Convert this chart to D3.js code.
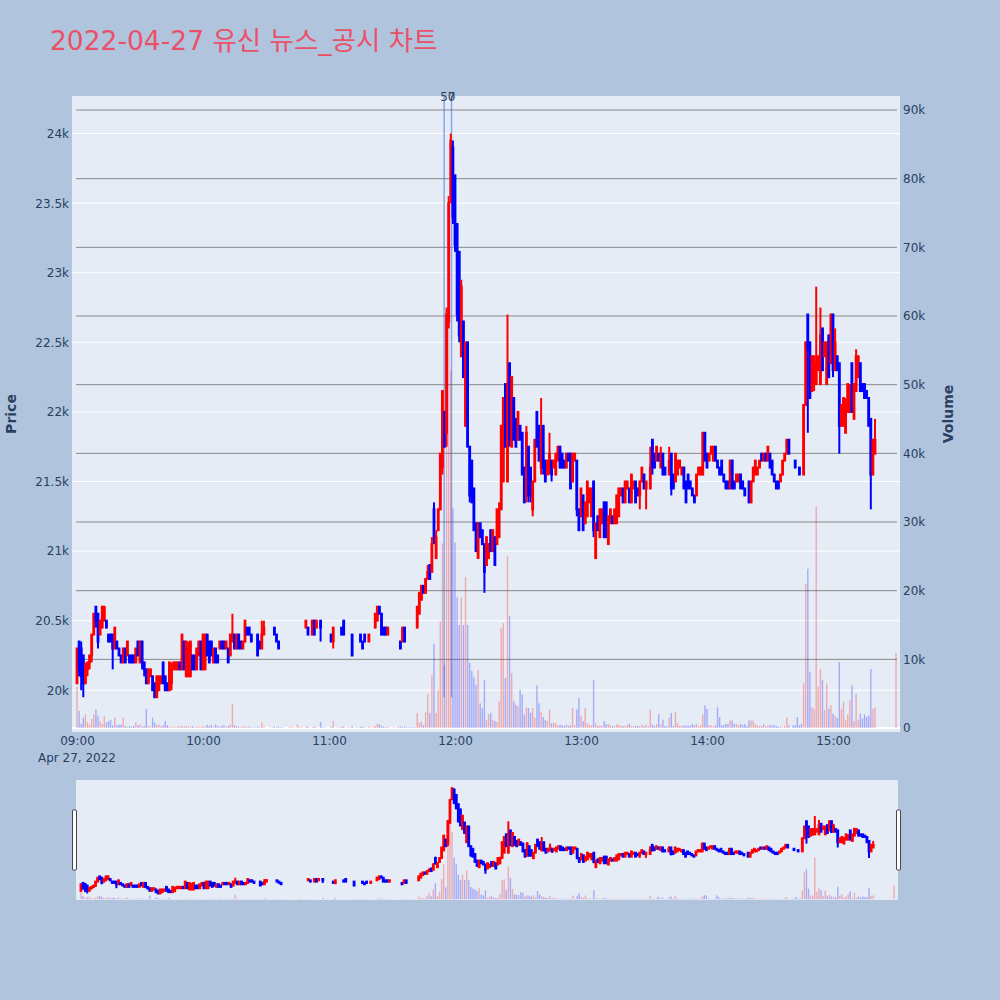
<!DOCTYPE html>
<html>
<head>
<meta charset="utf-8">
<script src="https://cdn.jsdelivr.net/npm/d3@7"></script>
<style>
  body { margin: 0; background: #b0c4de; }
  svg text { font-family: "DejaVu Sans", "Noto Sans CJK KR", sans-serif; }
</style>
</head>
<body>
<div id="chart"></div>
<script>
// one entry per minute starting 09:00, null = no trade in that minute
const openPrices = [
  20050,20350,20300,20250,20050,20150,20200,20250,20400,20600, // 09:00
  20550,20400,20450,20500,20500,20400,20400,20400,20300,20350,
  20300,20250,20200,20300,20250,20250,20250,20250,20200,20350,
  20200,20350,20200,20150,20050,20100,20100,20050,19950,20000,
  20050,20200,20100,20050,20000,20050,20150,20150,20150,20200,
  20150,20350,20100,20100,20100,20250,20250,20150,20250,20350,
  20150,20150,20400,20350,20350,20200,20300,20250,20300,20350, // 10:00
  20350,20300,20300,20250,20350,20400,20300,20400,20350,20300,
  20350,20450,20450,20400,20350,20350,20400,20350,20300,20400,
  null,null,20450,20450,20450,20400,20350,20300,20300,null,
  null,20350,20350,20350,null,20450,20450,20450,null,20450,
  20450,null,20400,20500,20450,null,20500,20450,20450,null,
  null,20400,20350,null,20500,20500,20450,20500,null,20500, // 11:00
  20500,20400,null,20450,20450,20400,20350,20400,null,20350,
  null,20450,20450,20500,20600,20550,20450,20450,20400,null,
  null,20450,null,20400,20350,20350,20450,20350,20350,20350,
  20350,20350,20450,20550,20650,20750,20700,20800,20900,20850,
  21300,20950,21150,21300,21600,22000,21850,22650,23550,23900,
  23700,23350,23150,22400,22650,21900,22500,21750,21650,21450, // 12:00
  21200,20950,21200,21150,21050,20900,20950,21150,21000,21100,
  21050,21100,21300,21500,22200,21500,22350,21750,22100,21950,
  21800,21900,21850,21600,21400,21750,21600,21300,21500,22000,
  21900,21600,21900,21650,21550,21600,21650,21600,21550,21650,
  21750,21700,21650,21600,21700,21700,21500,21650,21650,21300,
  21250,21400,21200,21250,21350,21250,21500,20950,21250,21100, // 13:00
  21200,21350,21350,21050,21200,21250,21200,21200,21250,21400,
  21450,21350,21450,21450,21350,21450,21500,21450,21400,21500,
  21550,21450,21450,21450,21800,21700,21650,21700,21600,21700,
  21600,21550,21550,21700,21550,21500,21550,21600,21550,21600,
  21500,21550,21500,21450,21400,21400,21550,21550,21550,21850,
  21700,21650,21700,21650,21750,21650,21600,21650,21550,21500, // 14:00
  21500,21450,21650,21500,21500,21500,21550,21500,21450,21400,
  21500,21350,21500,21550,21550,21600,21700,21650,21700,21650,
  21700,21650,21550,21500,21500,21500,21550,21650,21700,21800,
  null,21650,21650,21600,21600,21550,21550,22050,22700,22500,
  22150,22200,22200,22300,22200,22600,22400,22200,22550,22350,
  22700,22300,22400,22350,21900,21900,21850,22000,22000,22350, // 15:00
  21950,22150,22250,22350,22200,22200,22150,22100,21950,21550,
  21700,null,null,null,null,null,null,null,null,null,
  21800
];
const highPrices = [
  20300,20350,20350,20250,20200,20200,20250,20400,20550,20600,
  20550,20500,20600,20600,20500,20400,20400,20400,20450,20350,
  20300,20250,20300,20300,20350,20250,20250,20250,20300,20350,
  20350,20350,20200,20150,20150,20150,20100,20050,20100,20100,
  20100,20200,20100,20050,20200,20200,20200,20200,20200,20200,
  20400,20350,20350,20350,20350,20250,20250,20300,20350,20350,
  20400,20400,20400,20350,20350,20300,20300,20250,20350,20350,
  20350,20350,20300,20400,20550,20400,20400,20400,20350,20350,
  20500,20450,20450,20400,20350,20350,20400,20350,20500,20500,
  null,null,20450,20450,20450,20400,20350,20300,20300,null,
  null,20350,20350,20350,null,20450,20450,20450,null,20500,
  20450,null,20500,20500,20500,null,20500,20450,20450,null,
  null,20400,20450,null,20500,20500,20450,20500,null,20500,
  20500,20400,null,20450,20450,20400,20350,20400,null,20400,
  null,20450,20550,20600,20600,20550,20450,20450,20450,null,
  null,20450,null,20400,20350,20450,20450,20350,20350,20350,
  20350,20350,20600,20700,20750,20750,20800,20900,20900,21100,
  21350,21150,21300,21700,22150,22000,22750,23550,24000,23950,
  23700,23350,23150,22950,22650,22500,22500,21750,21650,21450,
  21200,21200,21200,21150,21050,21100,21050,21150,21150,21100,
  21300,21350,21900,22100,22200,22700,22350,22250,22100,21950,
  22000,21900,21850,21600,21900,21750,21600,21500,21800,22000,
  21900,22100,21900,21650,21650,21850,21650,21650,21700,21750,
  21750,21700,21650,21700,21700,21700,21700,21700,21650,21300,
  21450,21400,21350,21500,21450,21450,21500,21200,21250,21300,
  21300,21350,21350,21250,21300,21250,21300,21400,21450,21450,
  21450,21500,21500,21450,21550,21500,21500,21450,21500,21600,
  21550,21500,21450,21750,21800,21700,21750,21700,21750,21700,
  21600,21550,21750,21700,21550,21700,21650,21650,21600,21600,
  21500,21550,21500,21450,21400,21550,21600,21600,21850,21850,
  21700,21700,21750,21750,21750,21650,21600,21650,21550,21500,
  21500,21650,21650,21500,21550,21550,21550,21500,21450,21400,
  21500,21500,21600,21650,21600,21650,21700,21700,21700,21750,
  21700,21650,21550,21500,21500,21550,21650,21700,21800,21800,
  null,21650,21650,21600,21600,21550,22050,22500,22700,22500,
  22400,22400,22900,22400,22750,22600,22500,22500,22550,22700,
  22700,22600,22400,22350,22050,22100,22100,22200,22200,22350,
  22200,22450,22400,22350,22200,22200,22150,22100,21950,21800,
  21950,null,null,null,null,null,null,null,null,null,
  21800
];
const lowPrices = [
  20050,20100,20000,19950,20050,20100,20150,20200,20400,20450,
  20300,20400,20450,20500,20450,20350,20350,20150,20300,20300,
  20250,20200,20200,20200,20250,20200,20200,20200,20200,20250,
  20200,20150,20100,20050,20050,20100,20000,19950,19950,20000,
  20050,20050,20000,20000,20000,20000,20150,20150,20150,20150,
  20150,20150,20100,20100,20100,20150,20150,20150,20250,20150,
  20150,20150,20250,20200,20250,20200,20200,20200,20300,20300,
  20300,20300,20200,20250,20350,20300,20300,20300,20300,20300,
  20350,20400,20400,20350,20350,20350,20250,20300,20300,20400,
  null,null,20450,20450,20400,20350,20300,20300,20300,null,
  null,20350,20350,20350,null,20450,20450,20450,null,20450,
  20400,null,20400,20400,20450,null,20350,20450,20450,null,
  null,20350,20300,null,20500,20500,20400,20400,null,20500,
  20500,20250,null,20450,20450,20350,20300,20350,null,20350,
  null,20450,20450,20500,20550,20400,20400,20400,20400,null,
  null,20450,null,20400,20300,20350,20350,20350,20350,20350,
  20350,20350,20450,20550,20650,20700,20700,20800,20800,20850,
  21050,20950,21150,21300,21550,21750,21750,22600,23500,23350,
  23150,22650,22500,22400,22250,21900,21750,21350,21350,21150,
  21000,20950,21100,21050,20700,20900,20950,21000,21000,20900,
  21050,21100,21300,21500,21750,21500,21750,21750,21800,21750,
  21800,21800,21550,21350,21350,21350,21350,21250,21500,21750,
  21650,21550,21550,21500,21550,21550,21500,21600,21550,21650,
  21600,21600,21600,21600,21650,21450,21500,21650,21250,21150,
  21250,21150,21200,21250,21350,21250,21100,20950,21150,21100,
  21200,21100,21100,21050,21200,21200,21200,21200,21250,21400,
  21350,21350,21450,21350,21350,21450,21350,21400,21300,21500,
  21450,21300,21450,21450,21550,21600,21650,21650,21600,21550,
  21550,21550,21550,21400,21450,21500,21550,21600,21550,21450,
  21350,21450,21450,21400,21350,21400,21550,21550,21550,21650,
  21600,21650,21700,21650,21650,21600,21550,21550,21500,21450,
  21450,21450,21450,21450,21500,21500,21450,21450,21400,21400,
  21350,21350,21500,21550,21550,21600,21650,21650,21650,21650,
  21600,21550,21500,21450,21450,21500,21550,21650,21700,21700,
  null,21650,21600,21600,21550,21550,21550,22050,21850,22100,
  22150,22150,22200,22300,22200,22300,22400,22200,22250,22350,
  22250,22300,22300,21700,21900,21900,21850,22000,22000,22000,
  21950,22150,22250,22150,22150,22100,22100,21900,21300,21550,
  21700,null,null,null,null,null,null,null,null,null,
  21800
];
const closePrices = [
  20300,20150,20100,20050,20150,20200,20250,20400,20550,20500,
  20350,20500,20600,20600,20450,20350,20350,20300,20450,20300,
  20250,20200,20300,20200,20350,20200,20200,20200,20300,20250,
  20350,20200,20150,20050,20150,20150,20000,19950,20100,20100,
  20100,20050,20000,20000,20200,20150,20200,20200,20200,20150,
  20400,20150,20350,20300,20350,20150,20150,20300,20350,20150,
  20400,20400,20250,20200,20250,20300,20200,20200,20350,20300,
  20300,20350,20200,20400,20400,20300,20400,20300,20300,20350,
  20500,20400,20400,20350,20350,20350,20250,20300,20400,20450,
  null,null,20450,20450,20400,20350,20300,20300,20300,null,
  null,20350,20350,20350,null,20450,20450,20450,null,20500,
  20400,null,20500,20400,20500,null,20450,20450,20450,null,
  null,20350,20450,null,20500,20500,20400,20400,null,20500,
  20500,20250,null,20450,20450,20350,20300,20350,null,20400,
  null,20450,20550,20600,20550,20400,20400,20400,20450,null,
  null,20450,null,20400,20300,20450,20350,20350,20350,20350,
  20350,20350,20600,20700,20750,20700,20800,20850,20800,21050,
  21100,21100,21300,21700,22150,21750,22700,23500,23950,23400,
  23200,22700,22550,22900,22250,22500,21750,21400,21350,21150,
  21000,21200,21100,21050,20850,21100,21050,21000,21150,20900,
  21300,21300,21900,22100,21750,22200,21800,22250,21800,21750,
  22000,21800,21550,21350,21850,21400,21400,21500,21800,21750,
  21650,21850,21600,21500,21650,21700,21550,21650,21700,21750,
  21600,21600,21600,21700,21650,21450,21700,21700,21300,21150,
  21450,21150,21350,21500,21450,21450,21150,21200,21150,21300,
  21300,21100,21100,21250,21300,21200,21300,21400,21450,21450,
  21350,21500,21500,21350,21550,21500,21350,21400,21500,21600,
  21450,21500,21450,21600,21600,21600,21750,21650,21700,21550,
  21550,21550,21650,21450,21450,21700,21650,21650,21600,21450,
  21350,21450,21450,21400,21350,21550,21600,21600,21850,21650,
  21600,21700,21750,21750,21650,21600,21550,21550,21500,21450,
  21450,21650,21450,21450,21550,21550,21450,21450,21400,21400,
  21350,21500,21600,21650,21600,21650,21650,21700,21650,21750,
  21600,21550,21500,21450,21450,21550,21650,21700,21800,21700,
  null,21650,21600,21600,21550,21550,22050,22500,22450,22100,
  22400,22400,22350,22400,22550,22300,22500,22500,22250,22700,
  22300,22500,22300,21900,22050,22100,22050,22200,22150,22000,
  22200,22400,22400,22150,22150,22100,22100,21900,21550,21800,
  21800,null,null,null,null,null,null,null,null,null,
  21800
];
const volumes = [
  6000,2500,600,1500,2000,800,500,1300,2000,2700,
  1800,1000,600,1700,800,1000,1200,400,1600,400,
  500,500,1500,300,200,300,200,300,800,400,
  500,200,300,2800,300,200,1500,800,400,500,
  300,400,1000,400,200,100,200,100,300,200,
  300,200,300,200,200,300,100,200,200,100,
  300,200,500,300,500,200,500,300,200,300,
  400,200,300,500,3500,400,300,200,100,200,
  300,100,200,100,100,100,200,100,800,200,
  null,null,100,100,200,100,200,100,100,null,
  null,100,100,100,null,500,100,100,null,200,
  200,null,100,200,100,null,900,100,100,null,
  null,200,1000,null,100,100,200,200,null,100,
  100,300,null,100,100,200,200,100,null,200,
  null,100,300,600,600,300,200,100,200,null,
  null,100,null,100,200,200,200,100,100,100,
  100,100,2200,800,900,400,2300,5000,2200,7700,
  12300,2200,5500,15500,26900,9200,45000,60000,52000,32000,
  27000,19000,15000,19000,15000,22000,15000,9500,8300,7400,
  6300,8500,3600,2900,7000,1200,2000,2200,1200,1000,
  900,3900,14600,15300,7300,25000,16300,8000,3900,3400,
  3200,5600,4900,2000,3000,2900,2200,2900,1500,6200,
  3600,2400,1600,1200,1000,2700,700,800,700,400,
  500,400,300,500,300,400,2900,400,2700,4400,
  1700,1000,2900,700,500,400,7000,700,300,400,
  300,1000,600,600,400,300,300,500,500,300,
  300,300,400,600,300,300,300,300,300,500,
  300,500,200,2700,500,300,600,2000,500,1200,
  300,200,1500,2200,300,2400,700,300,300,400,
  300,400,300,600,400,600,300,400,2000,3300,
  2800,400,400,200,400,3000,1600,400,400,600,
  600,1100,1100,600,600,400,600,400,600,300,
  1100,1100,1100,600,400,300,300,600,200,400,
  400,400,400,300,200,200,100,300,1600,400,
  null,400,400,1600,400,600,6500,21000,23200,8200,
  3000,2800,32300,6000,8600,7000,2600,6500,2800,3300,
  2100,1800,1500,9600,2800,3800,1200,2000,4000,6200,
  1000,5000,1200,2100,1400,2000,1600,1800,8600,2800,
  3000,null,null,null,null,null,null,null,null,null,
  10900
];

const priceTicks = [20000, 20500, 21000, 21500, 22000, 22500, 23000, 23500, 24000];
const volumeTicks = [0, 10000, 20000, 30000, 40000, 50000, 60000, 70000, 80000, 90000];
const hourTicks = ["09:00", "10:00", "11:00", "12:00", "13:00", "14:00", "15:00"];
const newsTimes = ["11:54:50", "11:58:20"];
const newsLabels = ["5", "7"];

const W = 1000, H = 1000;
const plot = {left: 72, right: 900, top: 96, bottom: 732};
const slider = {left: 76, right: 898, top: 780, bottom: 900};
const axisColor = "#2a3f5f";
const upColor = "#ff0000", downColor = "#0000ff";

const base = new Date(2022, 3, 27, 9, 0);
const parseHM = d3.timeParse("%Y-%m-%d %H:%M");
const parseHMS = d3.timeParse("%Y-%m-%d %H:%M:%S");

// build candle table, Plotly-style direction (equal open/close follows previous close)
const candles = [];
let prevClose = null, rising = true;
openPrices.forEach(function (o, i) {
    if (o === null) return;
    const c = closePrices[i];
    if (c !== o) rising = c > o;
    else if (prevClose !== null && c !== prevClose) rising = c > prevClose;
    prevClose = c;
    candles.push({
        time: d3.timeMinute.offset(base, i),
        open: o, high: highPrices[i], low: lowPrices[i], close: c,
        volume: volumes[i], rising: rising
    });
});

const svg = d3.select("#chart").append("svg")
    .attr("width", W).attr("height", H);

svg.append("text")
    .attr("x", 50).attr("y", 50)
    .attr("fill", "#ea5168")
    .style("font-size", "26.5px")
    .text("2022-04-27 유신 뉴스_공시 차트");

const x = d3.scaleTime()
    .domain([new Date(+base - 2.38 * 60000), new Date(+base + 391.9 * 60000)])
    .range([plot.left, plot.right]);
const y = d3.scaleLinear().domain([19700, 24270]).range([plot.bottom, plot.top]);
const yVol = d3.scaleLinear().domain([-580, 92040]).range([plot.bottom, plot.top]);

svg.append("rect")
    .attr("x", plot.left).attr("y", plot.top)
    .attr("width", plot.right - plot.left).attr("height", plot.bottom - plot.top)
    .attr("fill", "#e5ecf6");

svg.append("defs").append("clipPath").attr("id", "plotClip")
    .append("rect")
    .attr("x", plot.left).attr("y", plot.top)
    .attr("width", plot.right - plot.left).attr("height", plot.bottom - plot.top);

// price grid (white) and volume grid (gray)
svg.append("g").selectAll("line").data(priceTicks).enter().append("line")
    .attr("x1", plot.left).attr("x2", plot.right)
    .attr("y1", d => y(d)).attr("y2", d => y(d))
    .attr("stroke", "#fff").attr("stroke-width", 1);
svg.append("g").selectAll("line").data(volumeTicks).enter().append("line")
    .attr("x1", d => d === 0 ? plot.left : 76).attr("x2", d => d === 0 ? plot.right : 897)
    .attr("y1", d => yVol(d)).attr("y2", d => yVol(d))
    .attr("stroke", d => d === 0 ? "#fff" : "#888")
    .attr("stroke-width", d => d === 0 ? 2 : 1);

const drawBars = function (g, xs, ys, width) {
    g.selectAll("rect.vol").data(candles).enter().append("rect")
        .attr("class", "vol")
        .attr("x", d => xs(d.time) - width / 2)
        .attr("y", d => ys(d.volume))
        .attr("width", width)
        .attr("height", d => ys(0) - ys(d.volume))
        .attr("fill", d => d.rising ? upColor : downColor)
        .attr("fill-opacity", 0.28);
};

const drawCandles = function (g, xs, ys) {
    const c = g.selectAll("g.candle").data(candles).enter().append("g")
        .attr("class", "candle")
        .attr("stroke", d => d.rising ? upColor : downColor)
        .attr("fill", d => d.rising ? upColor : downColor);
    c.append("line")
        .attr("x1", d => xs(d.time)).attr("x2", d => xs(d.time))
        .attr("y1", d => ys(d.high)).attr("y2", d => ys(d.low))
        .attr("stroke-width", 2);
    c.append("rect")
        .attr("x", d => xs(d.time) - 0.4)
        .attr("y", d => ys(Math.max(d.open, d.close)))
        .attr("width", 0.8)
        .attr("height", d => Math.abs(ys(d.open) - ys(d.close)))
        .attr("stroke-width", 2);
};

const main = svg.append("g").attr("clip-path", "url(#plotClip)");
drawBars(main, x, yVol, 1.4);

// news markers
main.selectAll("line.news").data(newsTimes).enter().append("line")
    .attr("class", "news")
    .attr("x1", d => x(parseHMS("2022-04-27 " + d))).attr("x2", d => x(parseHMS("2022-04-27 " + d)))
    .attr("y1", y(19950)).attr("y2", plot.top)
    .attr("stroke", "royalblue").attr("stroke-opacity", 0.55).attr("stroke-width", 1.5);

drawCandles(main, x, y);

svg.selectAll("text.news").data(newsTimes).enter().append("text")
    .attr("class", "news")
    .attr("x", d => x(parseHMS("2022-04-27 " + d)))
    .attr("y", 101)
    .attr("text-anchor", "middle")
    .attr("fill", axisColor)
    .style("font-size", "12px")
    .text((d, i) => newsLabels[i]);
svg.append("text")
    .attr("x", x(parseHMS("2022-04-27 " + newsTimes[1]))).attr("y", 101)
    .attr("text-anchor", "middle").attr("fill", axisColor)
    .style("font-size", "12px").text("0");

// axes
const fmtK = d3.format("~s");
const leftAxis = svg.append("g")
    .attr("transform", "translate(" + plot.left + ",0)")
    .call(d3.axisLeft(y).tickValues(priceTicks).tickSize(0).tickPadding(3).tickFormat(fmtK));
const rightAxis = svg.append("g")
    .attr("transform", "translate(" + plot.right + ",0)")
    .call(d3.axisRight(yVol).tickValues(volumeTicks).tickSize(0).tickPadding(3).tickFormat(fmtK));
const bottomAxis = svg.append("g")
    .attr("transform", "translate(0," + plot.bottom + ")")
    .call(d3.axisBottom(x)
        .tickValues(hourTicks.map(h => parseHM("2022-04-27 " + h)))
        .tickSize(0).tickPadding(4)
        .tickFormat(d3.timeFormat("%H:%M")));
[leftAxis, rightAxis, bottomAxis].forEach(function (a) {
    a.select(".domain").remove();
    a.selectAll("text").attr("fill", axisColor).style("font-size", "12px")
        .style("font-family", "'DejaVu Sans', sans-serif");
});
svg.append("text")
    .attr("x", x(base)).attr("y", 762)
    .attr("text-anchor", "middle").attr("fill", axisColor)
    .style("font-size", "12px")
    .text(d3.timeFormat("%b %-d, %Y")(base));

svg.append("text")
    .attr("transform", "translate(16,414) rotate(-90)")
    .attr("text-anchor", "middle").attr("fill", axisColor)
    .style("font-size", "14px").style("font-weight", "bold")
    .text("Price");
svg.append("text")
    .attr("transform", "translate(953,414) rotate(-90)")
    .attr("text-anchor", "middle").attr("fill", axisColor)
    .style("font-size", "14px").style("font-weight", "bold")
    .text("Volume");

// range slider
const xs = d3.scaleTime().domain(x.domain()).range([slider.left, slider.right]);
const ys = d3.scaleLinear().domain(y.domain()).range([slider.bottom, slider.top]);
const ysVol = d3.scaleLinear().domain(yVol.domain()).range([slider.bottom, slider.top]);
svg.append("rect")
    .attr("x", slider.left).attr("y", slider.top)
    .attr("width", slider.right - slider.left).attr("height", slider.bottom - slider.top)
    .attr("fill", "#e5ecf6");
svg.append("defs").append("clipPath").attr("id", "sliderClip")
    .append("rect")
    .attr("x", slider.left).attr("y", slider.top)
    .attr("width", slider.right - slider.left).attr("height", slider.bottom - slider.top);
const mini = svg.append("g").attr("clip-path", "url(#sliderClip)");
drawBars(mini, xs, ysVol, 1.4);
drawCandles(mini, xs, ys);

[slider.left - 2, slider.right].forEach(function (hx) {
    svg.append("rect")
        .attr("x", hx - 1.5).attr("y", 810)
        .attr("width", 4).attr("height", 60)
        .attr("rx", 1)
        .attr("fill", "#fff").attr("stroke", "#444").attr("stroke-width", 1);
});
</script>
</body>
</html>
